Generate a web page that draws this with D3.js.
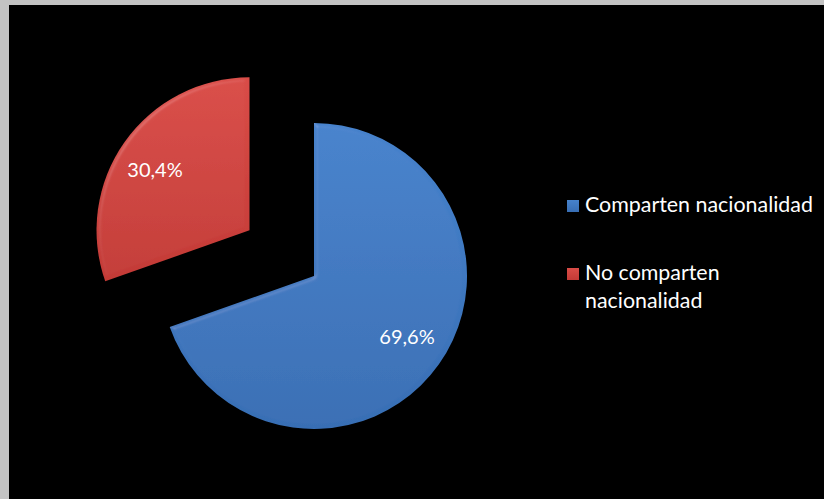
<!DOCTYPE html>
<html><head><meta charset="utf-8">
<script src="https://cdn.jsdelivr.net/npm/d3@7"></script>
<style>html,body{margin:0;padding:0;background:#c3c3c3;}svg{display:block;}</style>
</head><body>
<svg id="c" width="824" height="499"></svg>
<script>
const categories = ["Comparten nacionalidad", "No comparten nacionalidad"];
const values = [69.6, 30.4];
const labels = ["69,6%", "30,4%"];
const legendLines = [["Comparten nacionalidad"], ["No comparten", "nacionalidad"]];
const lightColors = ["#4682cc", "#d94c47"];
const darkColors = ["#386eb4", "#c33a36"];

const svg = d3.select("#c");
svg.append("rect").attr("x", 9).attr("y", 5).attr("width", 815).attr("height", 494).attr("fill", "#000");

const defs = svg.append("defs");
lightColors.forEach((c, i) => {
  const g = defs.append("linearGradient").attr("id", "g" + i)
    .attr("x1", 0).attr("y1", 0).attr("x2", 0).attr("y2", 1);
  g.append("stop").attr("offset", "0%").attr("stop-color", lightColors[i]);
  g.append("stop").attr("offset", "100%").attr("stop-color", darkColors[i]);
  const f = defs.append("filter").attr("id", "bevel" + i);
  f.append("feGaussianBlur").attr("in", "SourceAlpha").attr("stdDeviation", 2).attr("result", "b");
  f.append("feSpecularLighting").attr("in", "b").attr("surfaceScale", 3).attr("specularConstant", 0.4)
    .attr("specularExponent", 20).attr("lighting-color", "#ffffff").attr("result", "s")
    .append("feDistantLight").attr("azimuth", 225).attr("elevation", 35);
  f.append("feComposite").attr("in", "s").attr("in2", "SourceAlpha").attr("operator", "in").attr("result", "s2");
  f.append("feComposite").attr("in", "SourceGraphic").attr("in2", "s2").attr("operator", "arithmetic")
    .attr("k1", 0).attr("k2", 1).attr("k3", 0.18).attr("k4", 0);
});

const cx = 314, cy = 276, r = 153, explode = 79;
const pie = d3.pie().sort(null).value(d => d)(values);
const arc = d3.arc().innerRadius(0).outerRadius(r);

const gp = svg.append("g").attr("transform", `translate(${cx},${cy})`);
pie.forEach((p, i) => {
  const mid = (p.startAngle + p.endAngle) / 2;
  const off = i === 1 ? explode : 0;
  const dx = Math.sin(mid) * off, dy = -Math.cos(mid) * off;
  const g = gp.append("g").attr("transform", `translate(${dx},${dy})`);
  g.append("path").attr("d", arc(p)).attr("fill", `url(#g${i})`).attr("filter", `url(#bevel${i})`);
});

const labelPos = [[407, 339], [155, 172]];
pie.forEach((p, i) => {
  svg.append("text").attr("x", labelPos[i][0]).attr("y", labelPos[i][1])
    .attr("text-anchor", "middle").attr("dominant-baseline", "middle")
    .attr("fill", "#fff").attr("font-family", "Lato, 'Open Sans', sans-serif").attr("font-size", 20)
    .text(labels[i]);
});

const lg = svg.append("g");
const legendY = [200, 268];
categories.forEach((c, i) => {
  lg.append("rect").attr("x", 567).attr("y", legendY[i]).attr("width", 12).attr("height", 12)
    .attr("fill", `url(#g${i})`);
  legendLines[i].forEach((t, j) => {
    lg.append("text").attr("x", 585).attr("y", legendY[i] + 12 + j * 28)
      .attr("fill", "#fff").attr("font-family", "Lato, 'Open Sans', sans-serif").attr("font-size", 21.4)
      .text(t);
  });
});
</script>
</body></html>
